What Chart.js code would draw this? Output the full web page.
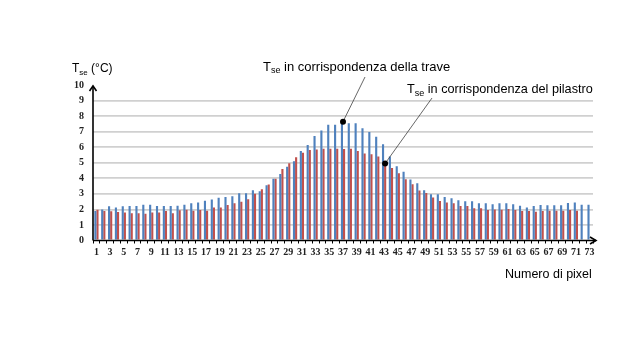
<!DOCTYPE html>
<html><head><meta charset="utf-8">
<script src="https://cdn.jsdelivr.net/npm/chart.js@4/dist/chart.umd.min.js"></script>
<style>html,body{margin:0;padding:0;background:#fff}#wrap{width:640px;height:360px}</style>
</head><body><div id="wrap"><canvas id="c" width="640" height="360"></canvas></div>
<script>
const pixels = Array.from({length:73},(_,i)=>String(i+1));
const trave = [1.9,2.0,2.2,2.13,2.2,2.22,2.22,2.3,2.3,2.22,
 2.22,2.22,2.24,2.3,2.4,2.45,2.55,2.63,2.75,2.8,
 2.85,3.04,3.04,3.23,3.17,3.56,3.97,4.27,4.74,5.1,
 5.75,6.14,6.72,7.07,7.44,7.44,7.59,7.54,7.54,7.22,
 6.98,6.68,6.19,5.4,4.78,4.42,3.92,3.68,3.23,2.97,
 2.97,2.8,2.72,2.59,2.52,2.52,2.4,2.4,2.33,2.4,
 2.4,2.33,2.24,2.13,2.22,2.28,2.26,2.26,2.26,2.41,
 2.45,2.3,2.3];
const pilastro = [1.98,1.9,1.88,1.83,1.8,1.75,1.75,1.72,1.8,1.8,
 1.9,1.75,1.95,1.98,1.92,1.96,1.92,2.13,2.13,2.28,
 2.4,2.5,2.65,3.0,3.3,3.6,3.97,4.6,4.96,5.35,
 5.65,5.82,5.86,5.9,5.9,5.9,5.88,5.9,5.75,5.6,
 5.55,5.4,4.95,4.66,4.32,3.94,3.62,3.21,3.05,2.77,
 2.54,2.44,2.4,2.22,2.22,2.07,2.07,1.96,2.0,1.98,
 2.03,1.96,1.9,1.9,1.85,1.9,1.92,1.92,1.92,1.96,
 1.92,null,null];
const yTicks = [0,1,2,3,4,5,6,7,8,9,10];
const annotTrave = {index:36, value:7.64, text:" in corrispondenza della trave"};
const annotPilastro = {index:42, value:4.95, text:" in corrispondenza del pilastro"};

function drawTse(ctx, x, y, rest, size){
  ctx.font = size+"px 'Liberation Sans', Arial, sans-serif";
  ctx.fillStyle = "#000"; ctx.textAlign="left"; ctx.textBaseline="alphabetic";
  ctx.fillText("T", x, y);
  let w = ctx.measureText("T").width;
  ctx.font = Math.round(size*0.68)+"px 'Liberation Sans', Arial, sans-serif";
  ctx.fillText("se", x+w, y+2.5);
  w += ctx.measureText("se").width;
  ctx.font = size+"px 'Liberation Sans', Arial, sans-serif";
  ctx.fillText(rest, x+w, y);
}

const deco = {
  id:'deco',
  afterDraw(chart){
    const ctx = chart.ctx, xs = chart.scales.x, ys = chart.scales.y;
    const a = chart.chartArea;
    ctx.save();
    ctx.strokeStyle="#000"; ctx.lineWidth=1.6;
    const y0 = ys.getPixelForValue(0);
    ctx.beginPath(); ctx.moveTo(a.left, y0); ctx.lineTo(a.left, a.top+1); ctx.stroke();
    ctx.beginPath(); ctx.moveTo(a.left-3.5, a.top+6); ctx.lineTo(a.left, a.top+1); ctx.lineTo(a.left+3.5, a.top+6); ctx.stroke();
    const xe = a.right+3;
    ctx.beginPath(); ctx.moveTo(a.left, y0); ctx.lineTo(xe, y0); ctx.stroke();
    ctx.beginPath(); ctx.moveTo(xe-6, y0-3.5); ctx.lineTo(xe, y0); ctx.lineTo(xe-6, y0+3.5); ctx.stroke();
    const p1 = {x: xs.getPixelForValue(annotTrave.index), y: ys.getPixelForValue(annotTrave.value)};
    const p2 = {x: xs.getPixelForValue(annotPilastro.index)+1, y: ys.getPixelForValue(annotPilastro.value)};
    ctx.strokeStyle="#404040"; ctx.lineWidth=0.8;
    ctx.beginPath(); ctx.moveTo(p1.x, p1.y); ctx.lineTo(365, 77); ctx.stroke();
    ctx.beginPath(); ctx.moveTo(p2.x, p2.y); ctx.lineTo(432, 98); ctx.stroke();
    ctx.fillStyle="#000";
    [p1,p2].forEach(p=>{ctx.beginPath(); ctx.arc(p.x,p.y,3,0,Math.PI*2); ctx.fill();});
    drawTse(ctx, 263, 70.5, annotTrave.text, 13);
    drawTse(ctx, 407, 93, annotPilastro.text, 12.7);
    drawTse(ctx, 72, 72, " (°C)", 12);
    ctx.font = "12.5px 'Liberation Sans', Arial, sans-serif";
    ctx.fillText("Numero di pixel", 505, 278);
    ctx.restore();
  }
};

new Chart(document.getElementById('c'), {
  type:'bar',
  data:{
    labels: pixels,
    datasets:[
      {label:'trave', data:trave, backgroundColor:'#4f81bd', barPercentage:1.0, categoryPercentage:0.62},
      {label:'pilastro', data:pilastro, backgroundColor:'#c0504d', barPercentage:1.0, categoryPercentage:0.62}
    ]
  },
  options:{
    responsive:false, animation:false,
    layout:{padding:{left:0, top:85, right:47, bottom:0}},
    plugins:{legend:{display:false}, tooltip:{enabled:false}},
    scales:{
      x:{
        afterFit(s){ s.height = 119.5; },
        border:{display:false},
        grid:{drawOnChartArea:false, drawTicks:true, tickLength:3, color:'#000', lineWidth:1},
        ticks:{autoSkip:false, maxRotation:0, minRotation:0, padding:3, color:'#222',
          font:{family:"'Liberation Serif', serif", size:10, weight:'bold'},
          callback:(v,i)=> i%2===0 ? pixels[i] : ''}
      },
      y:{
        min:0, max:10,
        afterFit(s){ s.width = 93; },
        afterBuildTicks(s){ s.ticks = yTicks.map(v=>({value:v})); },
        border:{display:false},
        grid:{drawTicks:false, lineWidth:1.8,
          color:(c)=> (c.tick && (c.tick.value===0 || c.tick.value===10)) ? 'rgba(0,0,0,0)' : '#d0d0d0'},
        ticks:{padding:9, color:'#222', font:{family:"'Liberation Serif', serif", size:10, weight:'bold'}}
      }
    }
  },
  plugins:[deco]
});
</script></body></html>
